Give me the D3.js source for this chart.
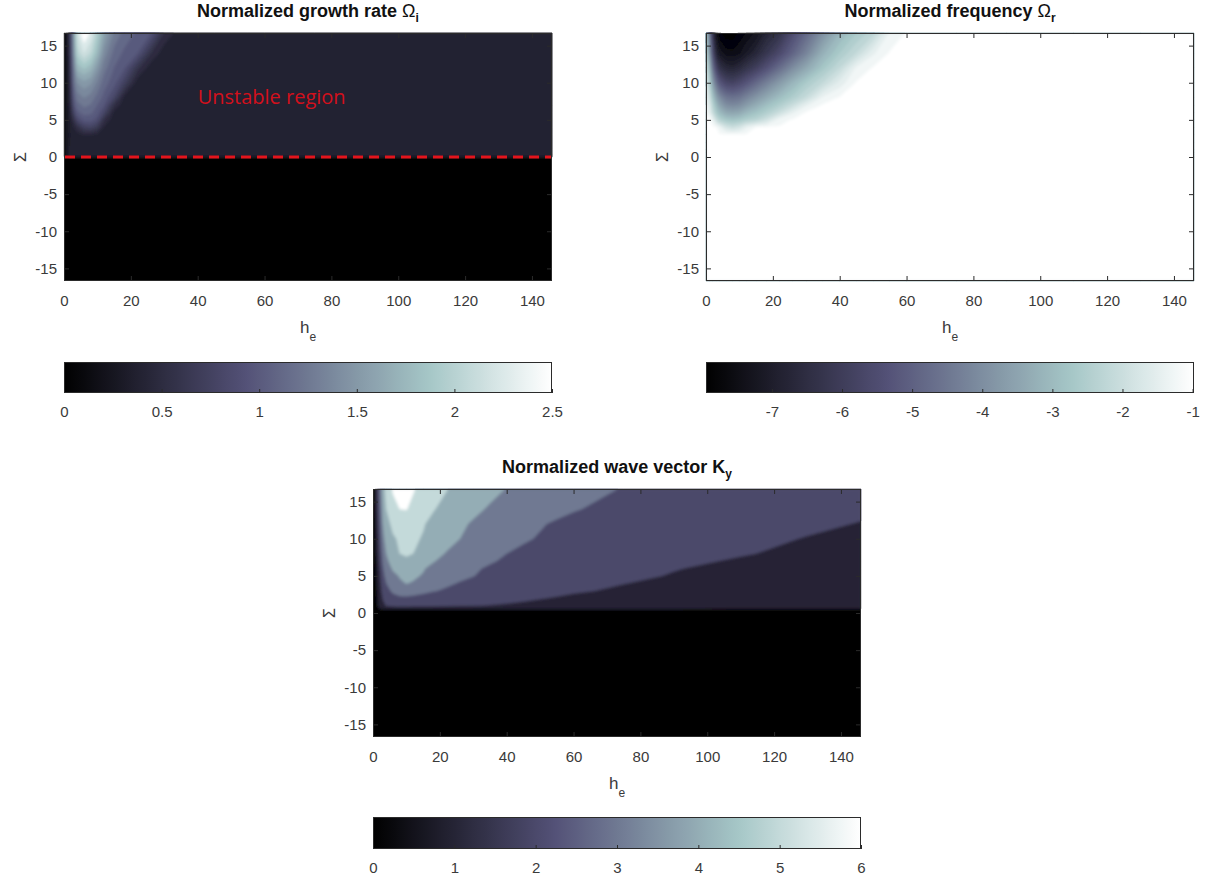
<!DOCTYPE html>
<html>
<head>
<meta charset="utf-8">
<script src="https://cdn.jsdelivr.net/npm/d3@7"></script>
<style>
  html, body { margin: 0; padding: 0; background: #fff; }
  svg { display: block; font-family: "Liberation Sans", Arial, sans-serif; }
</style>
</head>
<body>
<svg id="fig" width="1217" height="886"></svg>
<script>
// ---- sampling grid of the parameter plane ----
const heGrid = [0, 1, 2, 3, 4, 6, 8, 10, 12, 15, 18, 22, 26, 30, 35, 40, 45, 50, 55, 60, 75, 90, 110, 130, 146];
const sigmaGrid = [16.7, 14, 12, 10, 8, 7, 6, 5, 4, 3, 2, 1, 0.6, 0.4, 0.1, -0.1, -16.7];

const heTicks = [0, 20, 40, 60, 80, 100, 120, 140];
const sigmaTicks = [-15, -10, -5, 0, 5, 10, 15];

// ---- normalized growth rate Omega_i (rows follow sigmaGrid, columns follow heGrid) ----
const growthRate = [
  [0.15,0.30,0.80,1.60,2.25, 2.50,2.35,2.00,1.65,1.35, 1.20,1.10,1.00,0.60,0.42, 0.42,0.42,0.42,0.42,0.42, 0.42,0.42,0.42,0.42,0.42],
  [0.15,0.30,0.75,1.50,2.05, 2.25,2.10,1.80,1.45,1.20, 1.10,1.00,0.62,0.42,0.42, 0.42,0.42,0.42,0.42,0.42, 0.42,0.42,0.42,0.42,0.42],
  [0.15,0.30,0.70,1.35,1.80, 1.90,1.80,1.55,1.30,1.12, 1.02,0.65,0.42,0.42,0.42, 0.42,0.42,0.42,0.42,0.42, 0.42,0.42,0.42,0.42,0.42],
  [0.15,0.30,0.65,1.25,1.50, 1.58,1.52,1.35,1.18,1.05, 0.80,0.42,0.42,0.42,0.42, 0.42,0.42,0.42,0.42,0.42, 0.42,0.42,0.42,0.42,0.42],
  [0.15,0.30,0.60,1.10,1.30, 1.38,1.32,1.20,1.08,0.85, 0.45,0.42,0.42,0.42,0.42, 0.42,0.42,0.42,0.42,0.42, 0.42,0.42,0.42,0.42,0.42],
  [0.15,0.30,0.55,1.00,1.20, 1.28,1.24,1.12,1.00,0.60, 0.42,0.42,0.42,0.42,0.42, 0.42,0.42,0.42,0.42,0.42, 0.42,0.42,0.42,0.42,0.42],
  [0.15,0.30,0.50,0.85,1.08, 1.18,1.15,1.05,0.85,0.45, 0.42,0.42,0.42,0.42,0.42, 0.42,0.42,0.42,0.42,0.42, 0.42,0.42,0.42,0.42,0.42],
  [0.15,0.30,0.45,0.65,0.88, 1.04,1.04,0.95,0.60,0.42, 0.42,0.42,0.42,0.42,0.42, 0.42,0.42,0.42,0.42,0.42, 0.42,0.42,0.42,0.42,0.42],
  [0.15,0.30,0.42,0.50,0.60, 0.78,0.82,0.70,0.48,0.42, 0.42,0.42,0.42,0.42,0.42, 0.42,0.42,0.42,0.42,0.42, 0.42,0.42,0.42,0.42,0.42],
  [0.15,0.30,0.40,0.42,0.45, 0.50,0.50,0.46,0.42,0.42, 0.42,0.42,0.42,0.42,0.42, 0.42,0.42,0.42,0.42,0.42, 0.42,0.42,0.42,0.42,0.42],
  [0.15,0.32,0.40,0.42,0.42, 0.42,0.42,0.42,0.42,0.42, 0.42,0.42,0.42,0.42,0.42, 0.42,0.42,0.42,0.42,0.42, 0.42,0.42,0.42,0.42,0.42],
  [0.15,0.35,0.45,0.48,0.48, 0.48,0.48,0.48,0.48,0.48, 0.48,0.48,0.48,0.48,0.48, 0.48,0.48,0.48,0.48,0.48, 0.48,0.48,0.48,0.48,0.48],
  [0.15,0.35,0.45,0.48,0.48, 0.48,0.48,0.48,0.48,0.48, 0.48,0.48,0.48,0.48,0.48, 0.48,0.48,0.48,0.48,0.48, 0.48,0.48,0.48,0.48,0.48],
  [0.15,0.35,0.45,0.48,0.48, 0.48,0.48,0.48,0.48,0.48, 0.48,0.48,0.48,0.48,0.48, 0.48,0.48,0.48,0.48,0.48, 0.48,0.48,0.48,0.48,0.48],
  [0.15,0.35,0.45,0.48,0.48, 0.48,0.48,0.48,0.48,0.48, 0.48,0.48,0.48,0.48,0.48, 0.48,0.48,0.48,0.48,0.48, 0.48,0.48,0.48,0.48,0.48],
  [0,0,0,0,0, 0,0,0,0,0, 0,0,0,0,0, 0,0,0,0,0, 0,0,0,0,0],
  [0,0,0,0,0, 0,0,0,0,0, 0,0,0,0,0, 0,0,0,0,0, 0,0,0,0,0]
];

// ---- normalized frequency Omega_r ----
const frequency = [
  [-2.5,-4.5,-6.3,-7.3,-7.7, -7.9,-7.9,-7.7,-7.5,-7.2, -6.7,-6.2,-5.4,-4.7,-3.8, -3.0,-2.5,-2.1,-1.2,-0.98, -0.98,-0.98,-0.98,-0.98,-0.98],
  [-2.0,-3.8,-5.5,-6.6,-7.1, -7.4,-7.45,-7.3,-7.0,-6.6, -6.1,-5.5,-4.8,-4.1,-3.1, -2.5,-2.0,-1.3,-0.98,-0.98, -0.98,-0.98,-0.98,-0.98,-0.98],
  [-1.6,-3.0,-4.6,-5.6,-6.2, -6.6,-6.7,-6.5,-6.2,-5.8, -5.3,-4.6,-3.9,-3.3,-2.6, -2.0,-1.2,-0.98,-0.98,-0.98, -0.98,-0.98,-0.98,-0.98,-0.98],
  [-1.3,-2.4,-3.6,-4.5,-5.1, -5.6,-5.7,-5.5,-5.2,-4.7, -4.2,-3.6,-3.0,-2.5,-2.0, -1.4,-0.98,-0.98,-0.98,-0.98, -0.98,-0.98,-0.98,-0.98,-0.98],
  [-1.1,-1.8,-2.7,-3.4,-3.9, -4.4,-4.5,-4.4,-4.1,-3.7, -3.3,-2.8,-2.4,-1.95,-1.2, -0.98,-0.98,-0.98,-0.98,-0.98, -0.98,-0.98,-0.98,-0.98,-0.98],
  [-1.0,-1.5,-2.3,-2.9,-3.4, -3.9,-4.0,-3.9,-3.6,-3.2, -2.8,-2.4,-1.9,-1.3,-0.98, -0.98,-0.98,-0.98,-0.98,-0.98, -0.98,-0.98,-0.98,-0.98,-0.98],
  [-0.98,-1.3,-2.0,-2.5,-2.9, -3.3,-3.4,-3.3,-3.0,-2.7, -2.4,-1.9,-1.3,-0.98,-0.98, -0.98,-0.98,-0.98,-0.98,-0.98, -0.98,-0.98,-0.98,-0.98,-0.98],
  [-0.98,-0.98,-1.2,-1.9,-2.3, -2.6,-2.7,-2.6,-2.4,-2.2, -1.8,-1.1,-0.98,-0.98,-0.98, -0.98,-0.98,-0.98,-0.98,-0.98, -0.98,-0.98,-0.98,-0.98,-0.98],
  [-0.98,-0.98,-0.98,-0.98,-1.2, -1.7,-1.9,-1.7,-1.3,-1.0, -0.98,-0.98,-0.98,-0.98,-0.98, -0.98,-0.98,-0.98,-0.98,-0.98, -0.98,-0.98,-0.98,-0.98,-0.98],
  [-0.98,-0.98,-0.98,-0.98,-0.98, -0.98,-0.98,-0.98,-0.98,-0.98, -0.98,-0.98,-0.98,-0.98,-0.98, -0.98,-0.98,-0.98,-0.98,-0.98, -0.98,-0.98,-0.98,-0.98,-0.98],
  [-0.98,-0.98,-0.98,-0.98,-0.98, -0.98,-0.98,-0.98,-0.98,-0.98, -0.98,-0.98,-0.98,-0.98,-0.98, -0.98,-0.98,-0.98,-0.98,-0.98, -0.98,-0.98,-0.98,-0.98,-0.98],
  [-0.98,-0.98,-0.98,-0.98,-0.98, -0.98,-0.98,-0.98,-0.98,-0.98, -0.98,-0.98,-0.98,-0.98,-0.98, -0.98,-0.98,-0.98,-0.98,-0.98, -0.98,-0.98,-0.98,-0.98,-0.98],
  [-0.98,-0.98,-0.98,-0.98,-0.98, -0.98,-0.98,-0.98,-0.98,-0.98, -0.98,-0.98,-0.98,-0.98,-0.98, -0.98,-0.98,-0.98,-0.98,-0.98, -0.98,-0.98,-0.98,-0.98,-0.98],
  [-0.98,-0.98,-0.98,-0.98,-0.98, -0.98,-0.98,-0.98,-0.98,-0.98, -0.98,-0.98,-0.98,-0.98,-0.98, -0.98,-0.98,-0.98,-0.98,-0.98, -0.98,-0.98,-0.98,-0.98,-0.98],
  [-0.98,-0.98,-0.98,-0.98,-0.98, -0.98,-0.98,-0.98,-0.98,-0.98, -0.98,-0.98,-0.98,-0.98,-0.98, -0.98,-0.98,-0.98,-0.98,-0.98, -0.98,-0.98,-0.98,-0.98,-0.98],
  [-0.98,-0.98,-0.98,-0.98,-0.98, -0.98,-0.98,-0.98,-0.98,-0.98, -0.98,-0.98,-0.98,-0.98,-0.98, -0.98,-0.98,-0.98,-0.98,-0.98, -0.98,-0.98,-0.98,-0.98,-0.98],
  [-0.98,-0.98,-0.98,-0.98,-0.98, -0.98,-0.98,-0.98,-0.98,-0.98, -0.98,-0.98,-0.98,-0.98,-0.98, -0.98,-0.98,-0.98,-0.98,-0.98, -0.98,-0.98,-0.98,-0.98,-0.98]
];

// ---- normalized wave vector K_y ----
const waveVector = [
  [0.0,1.5,3.0,4.6,5.3, 5.65,5.9,5.8,5.65,5.4, 5.2,5.03,4.75,4.5,4.25, 3.97,3.78,3.6,3.47,3.35, 2.95,2.75,2.55,2.4,2.3],
  [0.0,1.4,2.8,4.3,5.0, 5.45,5.6,5.62,5.45,5.2, 5.05,4.75,4.45,4.2,3.9, 3.65,3.47,3.3,3.17,3.05, 2.75,2.55,2.35,2.18,2.08],
  [0.0,1.3,2.6,4.0,4.7, 5.2,5.35,5.3,5.2,5.05, 4.8,4.45,4.15,3.9,3.6, 3.35,3.2,3.05,2.92,2.8, 2.55,2.35,2.2,2.08,1.98],
  [0.0,1.2,2.4,3.7,4.4, 4.9,5.1,5.1,5.1,4.95, 4.6,4.25,4.0,3.7,3.45, 3.2,3.07,2.95,2.82,2.7, 2.45,2.28,2.12,1.98,1.88],
  [0.0,1.1,2.2,3.3,4.0, 4.6,5.0,5.15,5.0,4.6, 4.25,3.95,3.7,3.45,3.2, 3.0,2.87,2.75,2.65,2.55, 2.35,2.18,2.03,1.9,1.8],
  [0.0,1.0,2.1,3.1,3.8, 4.4,4.7,4.78,4.7,4.4, 4.05,3.75,3.5,3.3,3.08, 2.88,2.76,2.65,2.55,2.45, 2.25,2.1,1.95,1.82,1.72],
  [0.0,0.95,1.9,2.9,3.6, 4.1,4.35,4.4,4.3,4.05, 3.8,3.5,3.25,3.1,2.9, 2.72,2.6,2.5,2.41,2.32, 2.15,2.02,1.88,1.75,1.65],
  [0.0,0.9,1.8,2.7,3.3, 3.8,4.05,4.15,4.1,3.95, 3.6,3.35,3.15,3.02,2.8, 2.62,2.5,2.4,2.32,2.24, 2.1,1.97,1.82,1.7,1.6],
  [0.0,0.85,1.7,2.5,3.0, 3.5,3.9,4.02,3.95,3.6, 3.35,3.12,2.95,2.82,2.65, 2.5,2.4,2.3,2.22,2.15, 2.01,1.88,1.75,1.64,1.55],
  [0.0,0.8,1.6,2.3,2.75, 3.15,3.35,3.4,3.35,3.2, 3.05,2.9,2.78,2.66,2.52, 2.38,2.29,2.2,2.13,2.06, 1.92,1.8,1.68,1.58,1.5],
  [0.0,0.75,1.45,2.05,2.45, 2.75,2.85,2.85,2.8,2.7, 2.6,2.5,2.42,2.35,2.25, 2.15,2.08,2.02,1.96,1.9, 1.78,1.68,1.58,1.5,1.44],
  [0.0,0.7,1.3,1.8,2.05, 2.2,2.25,2.25,2.22,2.18, 2.14,2.1,2.06,2.02,1.98, 1.94,1.9,1.86,1.83,1.8, 1.72,1.65,1.58,1.52,1.47],
  [0.0,0.5,1.1,1.3,1.4, 1.4,1.4,1.4,1.4,1.4, 1.4,1.4,1.4,1.4,1.4, 1.4,1.38,1.35,1.35,1.35, 1.3,1.3,1.25,1.2,1.2],
  [0,0,0,0,0, 0,0,0,0,0, 0,0,0,0,0, 0,0,0,0,0, 0,0,0,0,0],
  [0,0,0,0,0, 0,0,0,0,0, 0,0,0,0,0, 0,0,0,0,0, 0,0,0,0,0],
  [0,0,0,0,0, 0,0,0,0,0, 0,0,0,0,0, 0,0,0,0,0, 0,0,0,0,0],
  [0,0,0,0,0, 0,0,0,0,0, 0,0,0,0,0, 0,0,0,0,0, 0,0,0,0,0]
];

// ---- colour-bar tick labels ----
const growthTicks = [0, 0.5, 1, 1.5, 2, 2.5];
const frequencyTicks = [-7, -6, -5, -4, -3, -2, -1];
const waveTicks = [0, 1, 2, 3, 4, 5, 6];

// ---- contour levels ----
const growthLevels = d3.range(0.125, 2.5, 0.125);
const frequencyLevels = d3.range(-7.75, -0.99, 0.25);
const waveLevels = [1, 2, 3, 4, 5, 5.6];

// bone-like colormap (black -> slate -> pale cyan -> white)
const bone = d3.scaleLinear()
  .domain([0, 0.375, 0.75, 1])
  .range(["#000000", "#545278", "#a6c7c7", "#ffffff"])
  .interpolate(d3.interpolateRgb)
  .clamp(true);

const svg = d3.select("#fig");
svg.append("rect").attr("width", 1217).attr("height", 886).attr("fill", "#fff");

const defs = svg.append("defs");
// shared horizontal gradient for the colour bars
const grad = defs.append("linearGradient").attr("id", "boneGrad")
  .attr("x1", "0%").attr("x2", "100%").attr("y1", "0%").attr("y2", "0%");
grad.selectAll("stop")
  .data(d3.range(0, 1.0001, 1 / 48))
  .join("stop")
  .attr("offset", d => (d * 100) + "%")
  .attr("stop-color", d => bone(d));
// slight softening of the filled-contour edges
defs.append("filter").attr("id", "soften")
  .attr("x", "-5%").attr("y", "-5%").attr("width", "110%").attr("height", "110%")
  .append("feGaussianBlur").attr("stdDeviation", 1.4);

const axisInk = "#2b2b2b";
const labelInk = "#3a3a3a";

const panels = [
  { rows: growthRate, cdomain: [0, 2.5], levels: growthLevels, cticks: growthTicks,
    x0: 64, x1: 552, y0: 33, y1: 281, cbY0: 362, cbY1: 393,
    title: "Normalized growth rate ", symbol: "\u03A9", sub: "i" },
  { rows: frequency, cdomain: [-7.94, -0.98], levels: frequencyLevels, cticks: frequencyTicks,
    x0: 706, x1: 1194, y0: 33, y1: 281, cbY0: 362, cbY1: 393,
    title: "Normalized frequency ", symbol: "\u03A9", sub: "r" },
  { rows: waveVector, cdomain: [0, 6], levels: waveLevels, cticks: waveTicks,
    x0: 373, x1: 861, y0: 489, y1: 737, cbY0: 817, cbY1: 849,
    title: "Normalized wave vector K", symbol: "", sub: "y" }
];

const nx = heGrid.length, ny = sigmaGrid.length;
// fractional grid index -> physical coordinate
const colToHe = d3.scaleLinear().domain(d3.range(nx)).range(heGrid).clamp(true);
const rowToSigma = d3.scaleLinear().domain(d3.range(ny)).range(sigmaGrid).clamp(true);

const fmt = d => String(d);

panels.forEach((p, idx) => {
  const g = svg.append("g");
  const x = d3.scaleLinear().domain([0, 146]).range([p.x0, p.x1]);
  const y = d3.scaleLinear().domain([-16.7, 16.7]).range([p.y1, p.y0]);
  const c = v => bone((v - p.cdomain[0]) / (p.cdomain[1] - p.cdomain[0]));

  // filled contours
  const values = p.rows.flat();
  const bands = d3.contours().size([nx, ny]).thresholds(p.levels)(values);
  const proj = d3.geoTransform({
    point(px, py) { this.stream.point(x(colToHe(px - 0.5)), y(rowToSigma(py - 0.5))); }
  });
  const path = d3.geoPath(proj);
  const bandColor = (d, i) => i === bands.length - 1 ? c(p.cdomain[1]) : c(d.value);

  const drawField = sel => {
    sel.append("rect")
      .attr("x", p.x0).attr("y", p.y0)
      .attr("width", p.x1 - p.x0).attr("height", p.y1 - p.y0)
      .attr("fill", c(p.cdomain[0]));
    sel.append("g").selectAll("path")
      .data(bands)
      .join("path")
      .attr("d", path)
      .attr("fill", bandColor)
      .attr("stroke", bandColor)
      .attr("stroke-width", 0.4);
  };

  const clipId = "plotClip" + idx;
  defs.append("clipPath").attr("id", clipId).append("rect")
    .attr("x", p.x0).attr("y", p.y0)
    .attr("width", p.x1 - p.x0).attr("height", p.y1 - p.y0);

  // crisp layer underneath, softened copy on top (keeps the borders solid)
  drawField(g.append("g"));
  drawField(g.append("g").attr("clip-path", `url(#${clipId})`).append("g").attr("filter", "url(#soften)"));

  // axes (ticks pointing inward, box on all four sides)
  const styleAxis = sel => {
    sel.select(".domain").remove();
    sel.selectAll(".tick line").attr("stroke", axisInk);
    sel.selectAll("text").attr("fill", labelInk).attr("font-size", 15)
      .attr("font-family", '"Liberation Sans", Arial, sans-serif');
  };
  g.append("g").attr("transform", `translate(0,${p.y1})`)
    .call(d3.axisBottom(x).tickValues(heTicks).tickFormat(fmt).tickSizeInner(-5).tickSizeOuter(0).tickPadding(14))
    .call(styleAxis);
  g.append("g").attr("transform", `translate(0,${p.y0})`)
    .call(d3.axisTop(x).tickValues(heTicks).tickFormat("").tickSizeInner(-5).tickSizeOuter(0))
    .call(styleAxis);
  g.append("g").attr("transform", `translate(${p.x0},0)`)
    .call(d3.axisLeft(y).tickValues(sigmaTicks).tickFormat(fmt).tickSizeInner(-5).tickSizeOuter(0).tickPadding(7))
    .call(styleAxis);
  g.append("g").attr("transform", `translate(${p.x1},0)`)
    .call(d3.axisRight(y).tickValues(sigmaTicks).tickFormat("").tickSizeInner(-5).tickSizeOuter(0))
    .call(styleAxis);

  g.append("rect")
    .attr("x", p.x0 + 0.5).attr("y", p.y0 + 0.5)
    .attr("width", p.x1 - p.x0 - 1).attr("height", p.y1 - p.y0 - 1)
    .attr("fill", "none").attr("stroke", axisInk).attr("stroke-width", 1);

  // title
  const t = g.append("text")
    .attr("x", (p.x0 + p.x1) / 2).attr("y", p.y0 - 16)
    .attr("text-anchor", "middle")
    .attr("font-size", 18).attr("font-weight", "bold").attr("fill", "#111");
  t.append("tspan").text(p.title);
  if (p.symbol) t.append("tspan").attr("font-weight", "normal").text(p.symbol);
  t.append("tspan").attr("dy", 5).attr("font-size", 12).text(p.sub);

  // axis labels
  const xl = g.append("text")
    .attr("x", (p.x0 + p.x1) / 2).attr("y", p.y1 + 52)
    .attr("text-anchor", "middle").attr("font-size", 17).attr("fill", labelInk);
  xl.append("tspan").text("h");
  xl.append("tspan").attr("dy", 8).attr("font-size", 12).text("e");

  g.append("text")
    .attr("transform", `translate(${p.x0 - 44},${(p.y0 + p.y1) / 2}) rotate(-90)`)
    .attr("text-anchor", "middle").attr("dy", "0.35em")
    .attr("font-size", 16).attr("fill", labelInk)
    .text("\u03A3");

  // colour bar
  const cb = d3.scaleLinear().domain(p.cdomain).range([p.x0, p.x1]);
  g.append("rect")
    .attr("x", cb(p.cdomain[0])).attr("y", p.cbY0)
    .attr("width", cb(p.cdomain[1]) - cb(p.cdomain[0]))
    .attr("height", p.cbY1 - p.cbY0)
    .attr("fill", "url(#boneGrad)");
  g.append("g").attr("transform", `translate(0,${p.cbY1})`)
    .call(d3.axisBottom(cb).tickValues(p.cticks).tickFormat(fmt).tickSizeInner(-4).tickSizeOuter(0).tickPadding(13))
    .call(styleAxis);
  g.append("rect")
    .attr("x", p.x0 + 0.5).attr("y", p.cbY0 + 0.5)
    .attr("width", p.x1 - p.x0 - 1).attr("height", p.cbY1 - p.cbY0 - 1)
    .attr("fill", "none").attr("stroke", axisInk).attr("stroke-width", 1);

  // marginal-stability line and annotation on the growth-rate map
  if (idx === 0) {
    g.append("line")
      .attr("x1", p.x0 + 1).attr("x2", p.x1 - 1)
      .attr("y1", y(0)).attr("y2", y(0))
      .attr("stroke", "#e3141c").attr("stroke-width", 3)
      .attr("stroke-dasharray", "10,6");
    g.append("text")
      .attr("x", x(40)).attr("y", y(7.2))
      .attr("font-size", 20).attr("fill", "#d3101c")
      .attr("font-family", '"Open Sans", "Liberation Sans", sans-serif')
      .text("Unstable region");
  }
});
</script>
</body>
</html>
